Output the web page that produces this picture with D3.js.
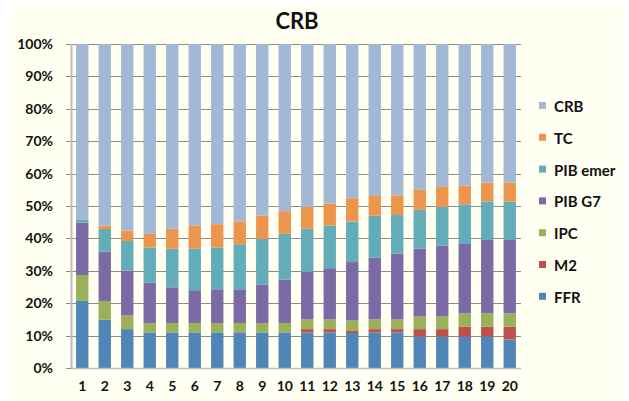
<!DOCTYPE html>
<html>
<head>
<meta charset="utf-8">
<script src="https://cdn.jsdelivr.net/npm/d3@7"></script>
<style>
	body { margin: 0; background: #ffffff; }
	text { font-family: Lato, "Open Sans", sans-serif; font-weight: bold; fill: #111; }
</style>
</head>
<body>
<div id="chart"></div>
<script>
// bar categories
var categories = d3.range(1, 21).map(String);

// series values (% of each bar)
var FFR      = [20.7, 14.9, 12.0, 11.0, 11.0, 11.0, 11.0, 11.0, 11.0, 11.0, 11.0, 11.0, 10.8, 11.0, 11.0, 9.7, 9.7, 9.7, 9.7, 8.8];
var M2       = [0, 0, 0, 0, 0, 0, 0, 0, 0, 0, 1.0, 1.0, 0.8, 1.0, 1.0, 2.3, 2.3, 3.0, 3.0, 3.9];
var IPC      = [8.0, 5.8, 4.2, 2.9, 2.9, 2.9, 2.9, 2.9, 2.9, 2.9, 3.0, 3.0, 3.1, 3.0, 3.0, 3.9, 3.9, 4.2, 4.2, 4.2];
var PIB_G7   = [16.2, 15.2, 13.9, 12.4, 11.0, 10.1, 10.4, 10.4, 11.9, 13.4, 14.7, 15.8, 18.0, 19.1, 20.3, 20.9, 21.9, 21.6, 22.6, 22.6];
var PIB_emer = [1.0, 7.0, 9.1, 10.9, 11.9, 12.8, 12.9, 13.9, 14.0, 14.1, 13.3, 13.2, 12.5, 12.9, 11.9, 12.0, 11.9, 12.0, 11.9, 11.9];
var TC       = [0.0, 1.1, 3.2, 4.2, 6.2, 7.2, 7.2, 7.0, 7.2, 7.0, 6.7, 6.8, 7.2, 6.1, 6.1, 6.2, 6.2, 5.8, 5.8, 5.8];
var CRB      = [54.1, 56.0, 57.6, 58.6, 57.0, 56.0, 55.6, 54.8, 53.0, 51.6, 50.3, 49.2, 47.6, 46.9, 46.7, 45.0, 44.1, 43.7, 42.8, 42.8];

var seriesNames = ["FFR", "M2", "IPC", "PIB G7", "PIB emer", "TC", "CRB"];
var seriesValues = [FFR, M2, IPC, PIB_G7, PIB_emer, TC, CRB];
var seriesColors = ["#5085b8", "#c0504d", "#9bb159", "#7b6aa6", "#62adb8", "#ee954d", "#a3b8d5"];

var yTicks = d3.range(0, 1.01, 0.1);

var width = 629, height = 401;
var margin = { top: 44, left: 71, right: 108, bottom: 33 };
var plotW = width - margin.left - margin.right;
var plotH = height - margin.top - margin.bottom;

var svg = d3.select("#chart")
	.append("svg")
	.attr("width", width)
	.attr("height", height);

// cream chart area
svg.append("rect")
	.attr("x", 12)
	.attr("y", 5)
	.attr("width", 611)
	.attr("height", 396)
	.attr("fill", "#fffff2");

svg.append("text")
	.attr("x", 297)
	.attr("y", 29)
	.attr("text-anchor", "middle")
	.style("font-size", "22px")
	.text("CRB");

var g = svg.append("g")
	.attr("transform", "translate(" + margin.left + "," + margin.top + ")");

var x = d3.scaleBand()
	.domain(categories)
	.range([0, plotW])
	.paddingInner(0.45)
	.paddingOuter(0.225);

var y = d3.scaleLinear()
	.domain([0, 1])
	.range([plotH, 0]);

// gridlines
g.append("g")
	.selectAll("line")
	.data(yTicks)
	.enter().append("line")
	.attr("x1", -5)
	.attr("x2", plotW)
	.attr("y1", function(d) { return Math.round(y(d)) + 0.5; })
	.attr("y2", function(d) { return Math.round(y(d)) + 0.5; })
	.attr("stroke", "#8c8c8c")
	.attr("stroke-width", 1);

// stack the data
var rows = categories.map(function(c, i) {
	var row = { cat: c };
	var total = d3.sum(seriesValues, function(s) { return s[i]; });
	seriesNames.forEach(function(n, k) { row[n] = seriesValues[k][i] / total; });
	return row;
});

var stacked = d3.stack().keys(seriesNames)(rows);

g.selectAll(".series")
	.data(stacked)
	.enter().append("g")
	.attr("class", "series")
	.attr("fill", function(d, k) { return seriesColors[k]; })
	.selectAll("rect")
	.data(function(d) { return d; })
	.enter().append("rect")
	.attr("x", function(d) { return x(d.data.cat); })
	.attr("width", x.bandwidth())
	.attr("y", function(d) { return y(d[1]); })
	.attr("height", function(d) { return y(d[0]) - y(d[1]); });

// axes
var yAxis = d3.axisLeft(y)
	.tickValues(yTicks)
	.tickFormat(d3.format(".0%"))
	.tickSize(0)
	.tickPadding(18);

g.append("g")
	.call(yAxis)
	.call(function(a) { a.select(".domain").remove(); })
	.selectAll("text")
	.style("font-size", "14px")
	.style("font-family", "Lato, sans-serif")
	.style("font-weight", "bold")
	.attr("fill", "#111");

g.append("line")
	.attr("x1", 0.5).attr("x2", 0.5)
	.attr("y1", 0).attr("y2", plotH)
	.attr("stroke", "#bcbcbc")
	.attr("stroke-width", 2);

g.append("line")
	.attr("x1", 0).attr("x2", plotW)
	.attr("y1", plotH + 0.5).attr("y2", plotH + 0.5)
	.attr("stroke", "#bcbcbc")
	.attr("stroke-width", 1.5);

var xAxis = d3.axisBottom(x).tickSize(0).tickPadding(13);

g.append("g")
	.attr("transform", "translate(0," + plotH + ")")
	.call(xAxis)
	.call(function(a) { a.select(".domain").remove(); })
	.selectAll("text")
	.style("font-size", "14px")
	.style("font-family", "Lato, sans-serif")
	.style("font-weight", "bold")
	.attr("fill", "#111");

// legend, top to bottom reversed order
var legendNames = seriesNames.slice().reverse();
var legendColors = seriesColors.slice().reverse();

var legend = svg.append("g")
	.attr("transform", "translate(539,102)");

var item = legend.selectAll(".item")
	.data(legendNames)
	.enter().append("g")
	.attr("class", "item")
	.attr("transform", function(d, i) { return "translate(0," + (i * 31.8) + ")"; });

item.append("rect")
	.attr("width", 7)
	.attr("height", 7)
	.attr("fill", function(d, i) { return legendColors[i]; });

item.append("text")
	.attr("x", 15)
	.attr("y", 10)
	.style("font-size", "15px")
	.text(function(d) { return d; });
</script>
</body>
</html>
